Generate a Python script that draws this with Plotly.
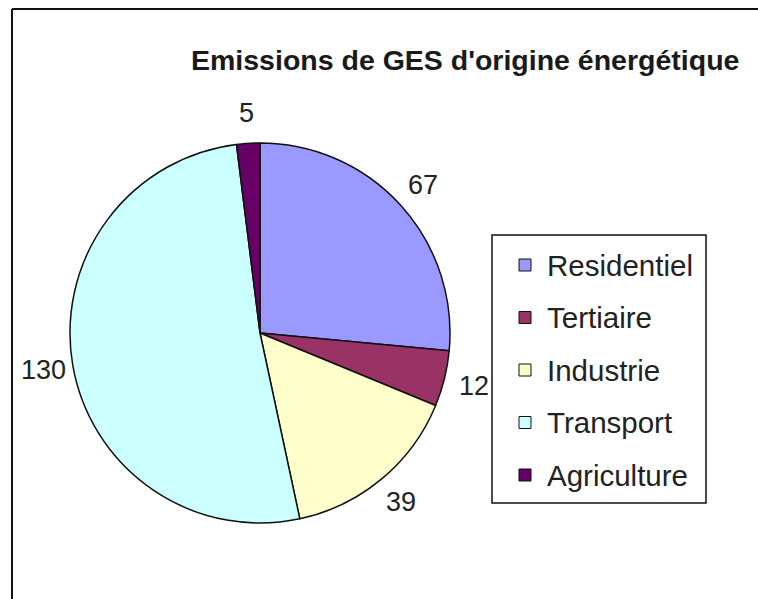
import math
import plotly.graph_objects as go

# Energy-related GHG emissions by sector
sectors = ["Residentiel", "Tertiaire", "Industrie", "Transport", "Agriculture"]
emissions = [67, 12, 39, 130, 5]
colors = ["#9999FF", "#993366", "#FFFFCC", "#CCFFFF", "#660066"]
title_text = "Emissions de GES d'origine énergétique"

W, H = 758, 599
FONT = "Liberation Sans, Arial, sans-serif"

fig = go.Figure()

# Pie area in pixels (center 260,333 ; radius 190)
cx, cy, r = 260, 333, 190
fig.add_trace(go.Pie(
    labels=sectors,
    values=emissions,
    sort=False,
    direction="clockwise",
    rotation=0,
    marker=dict(colors=colors, line=dict(color="#111111", width=1.5)),
    textinfo="none",
    showlegend=False,
    hoverinfo="label+value",
    domain=dict(x=[(cx - r) / W, (cx + r) / W],
                y=[1 - (cy + r) / H, 1 - (cy - r) / H]),
))

shapes = []
annotations = []

# Value labels placed outside each slice, along its mid angle
total = sum(emissions)
label_r = 220
cum = 0
for v in emissions:
    mid = (cum + v / 2) / total * 2 * math.pi
    cum += v
    px = cx + label_r * math.sin(mid)
    py = cy - label_r * math.cos(mid)
    annotations.append(dict(text=str(v), xref="paper", yref="paper",
                            x=px / W, y=1 - py / H, xanchor="center", yanchor="middle",
                            showarrow=False,
                            font=dict(family=FONT, size=27, color="#222222")))

# Chart frame (left and top edges)
shapes.append(dict(type="line", xref="paper", yref="paper",
                   x0=12 / W, y0=0, x1=12 / W, y1=1 - 9 / H,
                   line=dict(color="#111111", width=2)))
shapes.append(dict(type="line", xref="paper", yref="paper",
                   x0=12 / W, y0=1 - 9 / H, x1=1, y1=1 - 9 / H,
                   line=dict(color="#111111", width=2)))

# Title
annotations.append(dict(text="<b>" + title_text + "</b>", xref="paper", yref="paper",
                        x=465 / W, y=1 - 60 / H, xanchor="center", yanchor="middle",
                        showarrow=False, font=dict(family=FONT, size=28.5, color="#1a1a1a")))

# Legend box
lx0, ly0, lx1, ly1 = 492, 235, 706, 503
shapes.append(dict(type="rect", xref="paper", yref="paper",
                   x0=lx0 / W, x1=lx1 / W, y0=1 - ly1 / H, y1=1 - ly0 / H,
                   line=dict(color="#111111", width=1.5), fillcolor="white"))
row0, step, sq = 265, 52.5, 12
for i, (name, col) in enumerate(zip(sectors, colors)):
    yc = row0 + i * step
    shapes.append(dict(type="rect", xref="paper", yref="paper",
                       x0=519 / W, x1=(519 + sq) / W,
                       y0=1 - (yc + sq / 2) / H, y1=1 - (yc - sq / 2) / H,
                       line=dict(color="#111111", width=1), fillcolor=col))
    annotations.append(dict(text=name, xref="paper", yref="paper",
                            x=545 / W, y=1 - yc / H, xanchor="left", yanchor="middle",
                            showarrow=False,
                            font=dict(family=FONT, size=29.5, color="#222222")))

fig.update_layout(
    width=W, height=H,
    margin=dict(l=0, r=0, t=0, b=0),
    paper_bgcolor="white",
    plot_bgcolor="white",
    shapes=shapes,
    annotations=annotations,
)

fig.write_html("out.html")
